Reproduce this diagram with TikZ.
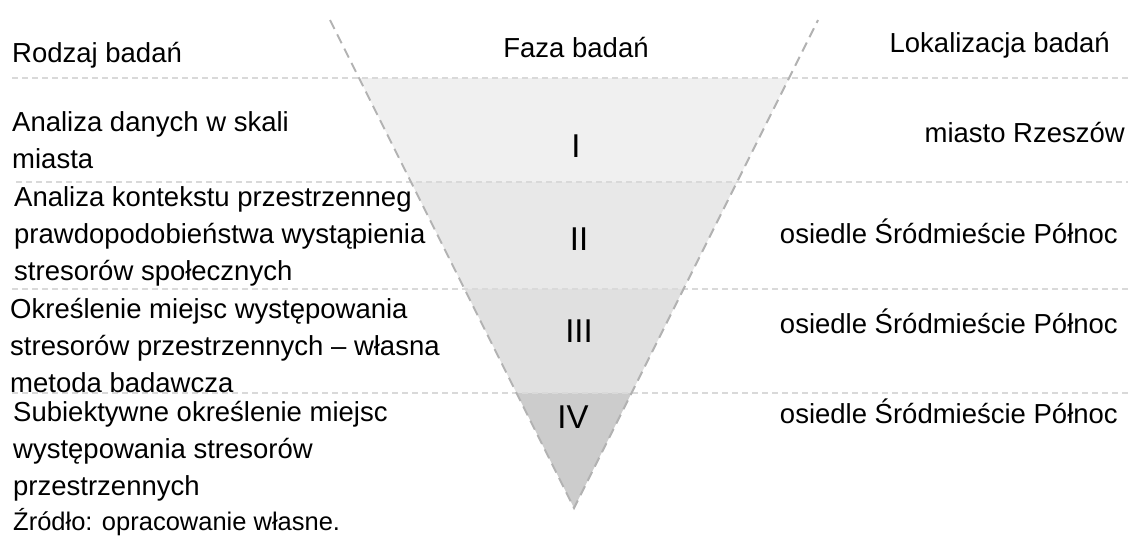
\documentclass[tikz,border=0pt]{standalone}
\usepackage{fontspec}
\setmainfont{Liberation Sans}
\begin{document}
\begin{tikzpicture}[x=1pt, y=-1pt,
    every node/.style={inner sep=0pt, font=\fontsize{27.5}{37}\selectfont},
    opis/.style={anchor=base west, align=left},
    miejsce/.style={anchor=base east},
    faza/.style={anchor=base, font=\fontsize{33}{37}\selectfont},
    pas/.style={draw=black!15, line width=1.2pt, dash pattern=on 6pt off 4pt},
    ramie/.style={draw=black!30, line width=2pt, dash pattern=on 10pt off 6pt}]
  \useasboundingbox (0,0) rectangle (1128,542);

  \coordinate (tl) at (330,20);
  \coordinate (tr) at (818,20);
  \coordinate (apex) at (574,508);

  % Pasy lejka
  \fill[black!6] (359,78) -- (789,78) -- (737,182) -- (411,182) -- cycle;
  \fill[black!9] (411,182) -- (737,182) -- (683.5,289) -- (464.5,289) -- cycle;
  \fill[black!12] (464.5,289) -- (683.5,289) -- (631.5,393) -- (516.5,393) -- cycle;
  \fill[black!20] (516.5,393) -- (631.5,393) -- (apex) -- cycle;

  % Linie podziału
  \draw[pas] (12,78) -- (1128,78);
  \draw[pas] (16,182) -- (1128,182);
  \draw[pas] (12,289) -- (1128,289);
  \draw[pas] (12,393) -- (1128,393);

  % Lejek
  \draw[ramie] (tl) -- (apex) -- (tr);

  % Nagłówki
  \node[opis] (rodzaj) at (12,62) {Rodzaj badań};
  \node[anchor=base] (faza) at (576,57) {Faza badań};
  \node[miejsce] (lok) at (1110,52) {Lokalizacja badań};

  % Rodzaje badań (kotwica na ostatniej linii)
  \node[opis] (r1) at (12,168) {Analiza danych w skali\\miasta};
  \node[opis] (r2) at (14,280) {Analiza kontekstu przestrzenneg\\prawdopodobieństwa wystąpienia\\stresorów społecznych};
  \node[opis] (r3) at (10,392) {Określenie miejsc występowania\\stresorów przestrzennych – własna\\metoda badawcza};
  \node[opis] (r4) at (13,495) {Subiektywne określenie miejsc\\występowania stresorów\\przestrzennych};

  % Fazy
  \node[faza] (f1) at (576,157) {I};
  \node[faza] (f2) at (579,250) {II};
  \node[faza] (f3) at (579,342) {III};
  \node[faza] (f4) at (573,428) {IV};

  % Lokalizacje
  \node[miejsce] (l1) at (1125,142) {miasto Rzeszów};
  \node[miejsce] (l2) at (1118,243) {osiedle Śródmieście Północ};
  \node[miejsce] (l3) at (1118,333) {osiedle Śródmieście Północ};
  \node[miejsce] (l4) at (1118,423) {osiedle Śródmieście Północ};

  \node[opis, font=\fontsize{25.5}{30}\selectfont] (zrodlo) at (13,530) {Źródło: opracowanie własne.};
\end{tikzpicture}
\end{document}
